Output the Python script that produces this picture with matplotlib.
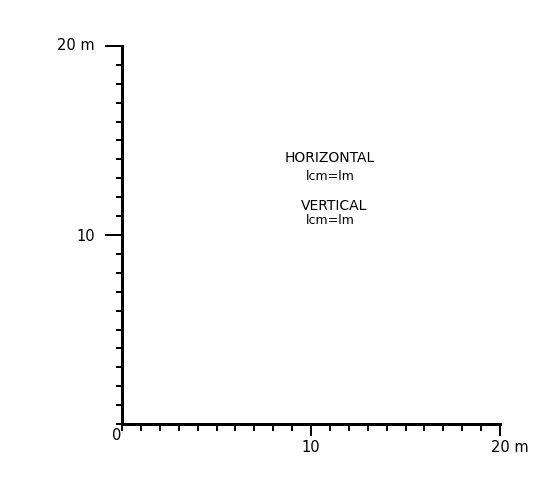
import matplotlib
matplotlib.use('Agg')
import matplotlib.pyplot as plt
from matplotlib.ticker import MultipleLocator, FixedLocator
import matplotlib.transforms as mtrans

# ---- data ----
x_range = [0, 20]
y_range = [0, 20]
x_major = [10, 20]
x_labels = ['10', '20 m']
y_major = [10, 20]
y_labels = ['10', '20 m']
minor_step = 1
origin_label = '0'
notes = ['HORIZONTAL', 'lcm=lm', 'VERTICAL', 'lcm=lm']
note_pos = [(11.0, 14.05), (11.0, 13.1), (11.2, 11.55), (11.0, 10.75)]

W, H, DPI = 554, 488, 100
PT = 72.0 / DPI  # pixels -> points

fig = plt.figure(figsize=(W / DPI, H / DPI), dpi=DPI)
fig.patch.set_facecolor('white')
x0, y0, x1, y1 = 122, 424, 500, 46
ax = fig.add_axes([x0 / W, (H - y0) / H, (x1 - x0) / W, (y0 - y1) / H])
ax.patch.set_alpha(0)
ax.set_xlim(*x_range)
ax.set_ylim(*y_range)
for s in ['top', 'right']:
    ax.spines[s].set_visible(False)
for s in ['left', 'bottom']:
    ax.spines[s].set_linewidth(3 * PT)
    ax.spines[s].set_color('black')
    ax.spines[s].set_capstyle('projecting')

ax.xaxis.set_major_locator(FixedLocator(x_major))
ax.xaxis.set_minor_locator(MultipleLocator(minor_step))
ax.yaxis.set_major_locator(FixedLocator(y_major))
ax.yaxis.set_minor_locator(MultipleLocator(minor_step))
ax.set_xticklabels(x_labels)
ax.set_yticklabels(y_labels)

ax.tick_params(axis='x', which='major', direction='out', length=12 * PT,
               width=2 * PT, pad=4 * PT, labelsize=10.5)
ax.tick_params(axis='x', which='minor', direction='out', length=7 * PT,
               width=2 * PT)
ax.tick_params(axis='y', which='major', direction='out', length=17 * PT,
               width=2 * PT, pad=10 * PT, labelsize=10.5)
ax.tick_params(axis='y', which='minor', direction='out', length=6 * PT,
               width=2 * PT)

# shift the "20 m" label on x so the number sits under the tick
lab = ax.get_xticklabels()[1]
lab.set_ha('left')
lab.set_transform(lab.get_transform() + mtrans.ScaledTranslation(-9 / DPI, 0, fig.dpi_scale_trans))
ylab = ax.get_yticklabels()[1]
ylab.set_va('center')

ax.annotate(origin_label, xy=(x_range[0], y_range[0]), xycoords='data',
            xytext=(-5, -12), textcoords='offset pixels',
            ha='center', va='center', fontsize=10.5)

for txt, (px, py) in zip(notes, note_pos):
    big = txt.isupper()
    ax.text(px, py, txt, ha='center', va='center',
            fontsize=10 if big else 9, fontweight='normal')

fig.savefig('out.png', dpi=DPI, facecolor='white')
